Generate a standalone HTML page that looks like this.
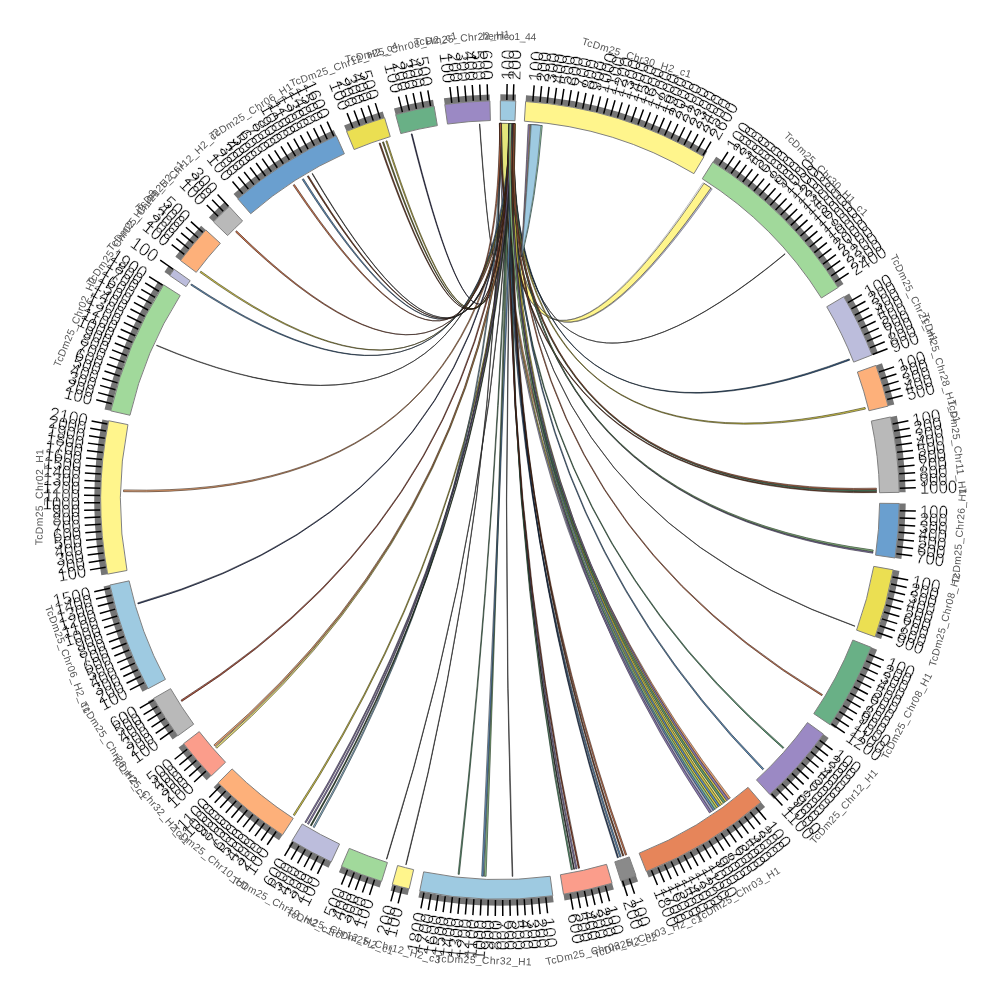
<!DOCTYPE html>
<html><head><meta charset="utf-8"><title>circos</title>
<style>
html,body{margin:0;padding:0;background:#fff;}
svg{display:block;font-family:"Liberation Sans",sans-serif;}
.tl text{mix-blend-mode:darken;}
</style></head><body>
<svg width="1000" height="1000" viewBox="0 0 1000 1000">
<rect width="1000" height="1000" fill="#fff"/>
<g stroke-linejoin="round"><path d="M500.33 123.4Q504.4 485.06 703.73 183.26A376.6 376.6 0 0 1 712.22 188.89Q504.81 485.14 510.19 123.54A376.6 376.6 0 0 0 500.33 123.4Z" fill="#bcbddc" stroke="#555" stroke-width="0.5"/><path d="M500.66 123.4Q504.37 485.12 702.9 182.73A376.6 376.6 0 0 1 710.86 187.97Q504.75 485.19 509.86 123.53A376.6 376.6 0 0 0 500.66 123.4Z" fill="#fff" stroke="#888" stroke-width="0.5"/><path d="M500.66 123.4Q504.43 485.01 704.01 183.44A376.6 376.6 0 0 1 710.86 187.97Q504.73 485.24 509.86 123.53A376.6 376.6 0 0 0 500.66 123.4Z" fill="#fff58c" stroke="#333" stroke-width="0.6"/><path d="M500.6 123.5L510 123.5Q509 170 507 215Q502 170 500.6 123.5Z" fill="#e3e57b" stroke="#555" stroke-width="0.5"/><path d="M499.37 123.4Q500 500 728.71 799.2A376.6 376.6 0 0 0 730.33 797.95Q500 500 501.4 123.4A376.6 376.6 0 0 0 499.37 123.4Z" fill="#e8a170" stroke="#322318" stroke-width="0.5"/><path d="M511.23 123.57Q500 500 137.73 602.91A376.6 376.6 0 0 0 138.03 603.94Q500 500 512.29 123.6A376.6 376.6 0 0 0 511.23 123.57Z" fill="#354470" stroke="#0b0e18" stroke-width="0.6"/><path d="M510.36 123.54Q500 500 783.02 748.45A376.6 376.6 0 0 0 783.87 747.47Q500 500 511.66 123.58A376.6 376.6 0 0 0 510.36 123.54Z" fill="#60a17b" stroke="#15231a" stroke-width="0.6"/><path d="M512.85 123.62Q497.93 485.34 383.56 141.85A376.6 376.6 0 0 0 382.44 142.22Q497.9 485.13 514.04 123.66A376.6 376.6 0 0 0 512.85 123.62Z" fill="#7e7e35" stroke="#1b1b0b" stroke-width="0.6"/><path d="M512.23 123.6Q493.31 482.8 236.57 230.87A376.6 376.6 0 0 0 235.51 231.91Q493.1 482.26 513.71 123.65A376.6 376.6 0 0 0 512.23 123.6Z" fill="#d37a52" stroke="#2e1a12" stroke-width="0.6"/><path d="M509.99 123.53Q495.99 484.99 303.47 178.75A376.6 376.6 0 0 0 302.21 179.52Q495.88 484.59 511.47 123.57A376.6 376.6 0 0 0 509.99 123.53Z" fill="#6192be" stroke="#151f29" stroke-width="0.6"/><path d="M511.92 123.59Q500 500 573.68 869.32A376.6 376.6 0 0 0 574.55 869.15Q500 500 512.8 123.62A376.6 376.6 0 0 0 511.92 123.59Z" fill="#2e2e2e" stroke="#0a0a0a" stroke-width="0.6"/><path d="M511.1 123.56Q500 500 721.81 804.35A376.6 376.6 0 0 0 723.46 803.14Q500 500 513.14 123.63A376.6 376.6 0 0 0 511.1 123.56Z" fill="#eae180" stroke="#33311c" stroke-width="0.5"/><path d="M513.64 123.65Q508.17 482.99 785.21 254.07A376.6 376.6 0 0 0 784.96 253.77Q508.1 483.13 514.04 123.66A376.6 376.6 0 0 0 513.64 123.65Z" fill="#222" stroke="#222" stroke-width="0.6"/><path d="M499.46 123.4Q500 500 716.68 808.02A376.6 376.6 0 0 0 718.34 806.84Q500 500 501.5 123.4A376.6 376.6 0 0 0 499.46 123.4Z" fill="#d8cd4b" stroke="#2f2c10" stroke-width="0.5"/><path d="M510.21 123.54Q500 500 625.32 855.14A376.6 376.6 0 0 0 626.72 854.64Q500 500 511.69 123.58A376.6 376.6 0 0 0 510.21 123.54Z" fill="#d37a52" stroke="#2e1a12" stroke-width="0.6"/><path d="M513.62 123.65Q500 500 762.73 769.82A376.6 376.6 0 0 0 763.79 768.78Q500 500 515.1 123.7A376.6 376.6 0 0 0 513.62 123.65Z" fill="#6192be" stroke="#151f29" stroke-width="0.6"/><path d="M509.91 123.53Q500 500 854.78 626.33A376.6 376.6 0 0 0 854.91 625.96Q500 500 510.31 123.54A376.6 376.6 0 0 0 509.91 123.53Z" fill="#222" stroke="#222" stroke-width="0.6"/><path d="M510.94 123.56Q500 500 575.73 868.91A376.6 376.6 0 0 0 577.01 868.64Q500 500 512.24 123.6A376.6 376.6 0 0 0 510.94 123.56Z" fill="#8e7eb4" stroke="#1f1b27" stroke-width="0.6"/><path d="M513.1 123.63Q499.12 406.93 479.8 123.94A376.6 376.6 0 0 0 479.47 123.96Q499.12 406.91 513.42 123.64A376.6 376.6 0 0 0 513.1 123.63Z" fill="#222" stroke="#222" stroke-width="0.6"/><path d="M509.69 123.52Q496.16 485.21 308.41 175.78A376.6 376.6 0 0 0 307.39 176.38Q496.08 484.89 510.87 123.56A376.6 376.6 0 0 0 509.69 123.52Z" fill="#7e4426" stroke="#1b0e08" stroke-width="0.6"/><path d="M510.92 123.56Q500 500 713.23 810.42A376.6 376.6 0 0 0 714.9 809.26Q500 500 512.96 123.62A376.6 376.6 0 0 0 510.92 123.56Z" fill="#6192be" stroke="#151f29" stroke-width="0.5"/><path d="M509.07 123.51Q500 500 307.45 823.66A376.6 376.6 0 0 0 308.57 824.32Q500 500 510.37 123.54A376.6 376.6 0 0 0 509.07 123.51Z" fill="#8e7eb4" stroke="#1f1b27" stroke-width="0.6"/><path d="M499.42 123.4Q500 500 711.38 811.68A376.6 376.6 0 0 0 713.06 810.53Q500 500 501.46 123.4A376.6 376.6 0 0 0 499.42 123.4Z" fill="#acadca" stroke="#25252c" stroke-width="0.5"/><path d="M513.03 123.63Q492.4 487.78 156.71 345.14A376.6 376.6 0 0 0 156.5 345.62Q492.36 487.72 513.56 123.64A376.6 376.6 0 0 0 513.03 123.63Z" fill="#333" stroke="#222" stroke-width="0.6"/><path d="M511.34 123.57Q500 500 718.4 806.81A376.6 376.6 0 0 0 720.06 805.62Q500 500 513.37 123.64A376.6 376.6 0 0 0 511.34 123.57Z" fill="#6192be" stroke="#151f29" stroke-width="0.5"/><path d="M513.19 123.63Q500 500 571.22 869.8A376.6 376.6 0 0 0 572.5 869.56Q500 500 514.49 123.68A376.6 376.6 0 0 0 513.19 123.63Z" fill="#60a17b" stroke="#15231a" stroke-width="0.6"/><path d="M510.43 123.54Q500 500 578.31 868.37A376.6 376.6 0 0 0 579.58 868.1Q500 500 511.73 123.58A376.6 376.6 0 0 0 510.43 123.54Z" fill="#933f26" stroke="#200d08" stroke-width="0.6"/><path d="M512.07 123.59Q500 500 215.63 746.9A376.6 376.6 0 0 0 216.79 748.24Q500 500 513.84 123.65A376.6 376.6 0 0 0 512.07 123.59Z" fill="#eae180" stroke="#33311c" stroke-width="0.6"/><path d="M511.57 123.58Q500 500 123.54 489.91A376.6 376.6 0 0 0 123.49 491.69Q500 500 513.35 123.64A376.6 376.6 0 0 0 511.57 123.58Z" fill="#e8a170" stroke="#322318" stroke-width="0.6"/><path d="M511.94 123.59Q497.91 479.54 412.07 133.81A376.6 376.6 0 0 0 411.21 134.02Q497.89 479.42 512.83 123.62A376.6 376.6 0 0 0 511.94 123.59Z" fill="#353561" stroke="#0b0b15" stroke-width="0.6"/><path d="M511.04 123.56Q500 500 293.28 814.79A376.6 376.6 0 0 0 294.52 815.6Q500 500 512.52 123.61A376.6 376.6 0 0 0 511.04 123.56Z" fill="#d8cd4b" stroke="#2f2c10" stroke-width="0.6"/><path d="M499.81 123.4Q500 500 313.05 826.92A376.6 376.6 0 0 0 314.34 827.65Q500 500 501.29 123.4A376.6 376.6 0 0 0 499.81 123.4Z" fill="#91b9cf" stroke="#1f282d" stroke-width="0.6"/><path d="M513.17 123.63Q500 500 720.11 805.58A376.6 376.6 0 0 0 721.76 804.39Q500 500 515.2 123.71A376.6 376.6 0 0 0 513.17 123.63Z" fill="#d8cd4b" stroke="#2f2c10" stroke-width="0.5"/><path d="M511.22 123.57Q508.72 487.52 849.67 360.14A376.6 376.6 0 0 0 849.18 358.93Q508.59 487.71 512.52 123.61A376.6 376.6 0 0 0 511.22 123.57Z" fill="#39618d" stroke="#0c151e" stroke-width="0.6"/><path d="M512.21 123.6Q500 500 310.34 825.35A376.6 376.6 0 0 0 311.36 825.95Q500 500 513.39 123.64A376.6 376.6 0 0 0 512.21 123.6Z" fill="#355235" stroke="#0b120b" stroke-width="0.6"/><path d="M508.94 123.51Q500 500 484.33 876.27A376.6 376.6 0 0 0 486.1 876.34Q500 500 510.72 123.55A376.6 376.6 0 0 0 508.94 123.51Z" fill="#94c78e" stroke="#202b1f" stroke-width="0.6"/><path d="M512.4 123.6Q497.94 484.93 387 140.75A376.6 376.6 0 0 0 385.88 141.11Q497.91 484.73 513.58 123.64A376.6 376.6 0 0 0 512.4 123.6Z" fill="#d8cd4b" stroke="#2f2c10" stroke-width="0.6"/><path d="M511.98 123.59Q492.17 483.5 200.87 271.2A376.6 376.6 0 0 0 199.98 272.37Q491.93 482.99 513.46 123.64A376.6 376.6 0 0 0 511.98 123.59Z" fill="#d8cd4b" stroke="#2f2c10" stroke-width="0.6"/><path d="M513.4 123.64Q500 500 725.2 801.85A376.6 376.6 0 0 0 726.83 800.63Q500 500 515.44 123.72A376.6 376.6 0 0 0 513.4 123.64Z" fill="#d8cd4b" stroke="#2f2c10" stroke-width="0.5"/><path d="M512.93 123.62Q500 500 872.83 553.19A376.6 376.6 0 0 0 873.01 551.9Q500 500 514.23 123.67A376.6 376.6 0 0 0 512.93 123.62Z" fill="#8e7eb4" stroke="#1f1b27" stroke-width="0.6"/><path d="M499.92 123.4Q500 500 405.71 864.6A376.6 376.6 0 0 0 406.22 864.74Q500 500 500.45 123.4A376.6 376.6 0 0 0 499.92 123.4Z" fill="#333" stroke="#222" stroke-width="0.6"/><path d="M510.78 123.55Q491.94 483.97 191.5 284A376.6 376.6 0 0 0 190.76 285.06Q491.74 483.56 512.08 123.59A376.6 376.6 0 0 0 510.78 123.55Z" fill="#6192be" stroke="#151f29" stroke-width="0.6"/><path d="M511.94 123.59Q500 500 213.91 744.91A376.6 376.6 0 0 0 215.07 746.25Q500 500 513.71 123.65A376.6 376.6 0 0 0 511.94 123.59Z" fill="#e8a170" stroke="#322318" stroke-width="0.6"/><path d="M509.05 123.51Q500 500 458.09 874.26A376.6 376.6 0 0 0 459.26 874.39Q500 500 510.23 123.54A376.6 376.6 0 0 0 509.05 123.51Z" fill="#60a17b" stroke="#15231a" stroke-width="0.6"/><path d="M511.07 123.56Q500 500 181 700.17A376.6 376.6 0 0 0 181.79 701.42Q500 500 512.54 123.61A376.6 376.6 0 0 0 511.07 123.56Z" fill="#b45944" stroke="#27130e" stroke-width="0.6"/><path d="M509.34 123.52Q500 500 723.51 803.1A376.6 376.6 0 0 0 725.14 801.89Q500 500 511.38 123.57A376.6 376.6 0 0 0 509.34 123.52Z" fill="#60a17b" stroke="#15231a" stroke-width="0.5"/><path d="M509.84 123.53Q496.29 485.33 312.5 173.4A376.6 376.6 0 0 0 312.04 173.66Q496.26 485.19 510.37 123.54A376.6 376.6 0 0 0 509.84 123.53Z" fill="#222" stroke="#222" stroke-width="0.6"/><path d="M509.08 123.51Q500 500 619.73 857.06A376.6 376.6 0 0 0 621.13 856.59Q500 500 510.56 123.55A376.6 376.6 0 0 0 509.08 123.51Z" fill="#6192be" stroke="#151f29" stroke-width="0.6"/><path d="M512.72 123.62Q500 500 617.38 857.84A376.6 376.6 0 0 0 618.5 857.47Q500 500 513.91 123.66A376.6 376.6 0 0 0 512.72 123.62Z" fill="#2b4874" stroke="#090f19" stroke-width="0.6"/><path d="M499.49 123.4Q500.54 499.44 876.53 492.57A376.6 376.6 0 0 0 876.5 491.39Q500.73 499.25 500.68 123.4A376.6 376.6 0 0 0 499.49 123.4Z" fill="#7e4426" stroke="#1b0e08" stroke-width="0.6"/><path d="M509.92 123.53Q506.81 491.51 865.45 409.06A376.6 376.6 0 0 0 865.05 407.45Q506.85 491.47 511.58 123.58A376.6 376.6 0 0 0 509.92 123.53Z" fill="#d8cd4b" stroke="#2f2c10" stroke-width="0.6"/><path d="M510.44 123.54Q500 500 726.88 800.59A376.6 376.6 0 0 0 728.5 799.36Q500 500 512.47 123.61A376.6 376.6 0 0 0 510.44 123.54Z" fill="#8e7eb4" stroke="#1f1b27" stroke-width="0.5"/><path d="M513.5 123.64Q500 500 512.16 876.4A376.6 376.6 0 0 0 512.81 876.38Q500 500 514.15 123.67A376.6 376.6 0 0 0 513.5 123.64Z" fill="#555" stroke="#222" stroke-width="0.6"/><path d="M509.34 123.52Q497.8 485.36 380.19 142.97A376.6 376.6 0 0 0 379.07 143.34Q497.76 485.16 510.52 123.55A376.6 376.6 0 0 0 509.34 123.52Z" fill="#7e4426" stroke="#1b0e08" stroke-width="0.6"/><path d="M511.48 123.58Q500 500 386.38 859.05A376.6 376.6 0 0 0 386.88 859.21Q500 500 512.01 123.59A376.6 376.6 0 0 0 511.48 123.58Z" fill="#333" stroke="#222" stroke-width="0.6"/><path d="M511.22 123.57Q500 500 709.47 812.97A376.6 376.6 0 0 0 711.16 811.83Q500 500 513.26 123.63A376.6 376.6 0 0 0 511.22 123.57Z" fill="#8e7eb4" stroke="#1f1b27" stroke-width="0.5"/><path d="M513.14 123.63Q500 500 873.06 551.52A376.6 376.6 0 0 0 873.26 550.05Q500 500 514.62 123.68A376.6 376.6 0 0 0 513.14 123.63Z" fill="#94c78e" stroke="#202b1f" stroke-width="0.6"/><path d="M512.68 123.61Q500 500 481.7 876.16A376.6 376.6 0 0 0 483.47 876.24Q500 500 514.45 123.68A376.6 376.6 0 0 0 512.68 123.61Z" fill="#6192be" stroke="#151f29" stroke-width="0.6"/><path d="M499.83 123.4Q495.57 485.09 294.41 184.47A376.6 376.6 0 0 0 293.17 185.28Q495.45 484.68 501.31 123.4A376.6 376.6 0 0 0 499.83 123.4Z" fill="#d37a52" stroke="#2e1a12" stroke-width="0.6"/><path d="M510.31 123.54Q501.53 498.47 876.49 491.06A376.6 376.6 0 0 0 876.46 489.88Q501.72 498.29 511.49 123.58A376.6 376.6 0 0 0 510.31 123.54Z" fill="#60a17b" stroke="#15231a" stroke-width="0.6"/><path d="M510.93 123.56Q501.7 498.3 876.45 489.48A376.6 376.6 0 0 0 876.41 488.18Q501.91 498.09 512.23 123.6A376.6 376.6 0 0 0 510.93 123.56Z" fill="#d37a52" stroke="#2e1a12" stroke-width="0.6"/><path d="M510.65 123.55Q500 500 304.92 822.13A376.6 376.6 0 0 0 306.03 822.81Q500 500 511.95 123.59A376.6 376.6 0 0 0 510.65 123.55Z" fill="#8e7eb4" stroke="#1f1b27" stroke-width="0.6"/><path d="M513.24 123.63Q500 500 622.62 856.08A376.6 376.6 0 0 0 623.84 855.65Q500 500 514.54 123.68A376.6 376.6 0 0 0 513.24 123.63Z" fill="#7e4426" stroke="#1b0e08" stroke-width="0.6"/><path d="M513.6 123.65Q500 500 821.79 695.65A376.6 376.6 0 0 0 822.47 694.53Q500 500 514.9 123.69A376.6 376.6 0 0 0 513.6 123.65Z" fill="#d37a52" stroke="#2e1a12" stroke-width="0.6"/><path d="M509.25 123.51Q500 500 714.96 809.23A376.6 376.6 0 0 0 716.63 808.06Q500 500 511.29 123.57A376.6 376.6 0 0 0 509.25 123.51Z" fill="#94c78e" stroke="#202b1f" stroke-width="0.5"/><path d="M528.2 124.6Q525 195 521.2 257Q535.2 200 541.2 125.6A376.6 376.6 0 0 0 528.2 124.6Z" fill="#9b89c4" stroke="#222" stroke-width="0.6"/><path d="M529.7 124.6Q525.85 195 521.4 256.5Q535.5 200 541.6 125.6A376.6 376.6 0 0 0 529.7 124.6Z" fill="#fdb07a" stroke="#333" stroke-width="0.5"/><path d="M530.6 124.6Q526.55 195 521.9 257Q536.1 200 542.3 125.6A376.6 376.6 0 0 0 530.6 124.6Z" fill="#a1d99b" stroke="#234" stroke-width="0.6"/><path d="M531.3 124.6Q526.8 195 521.7 255Q535.3 200 540.9 125.6A376.6 376.6 0 0 0 531.3 124.6Z" fill="#9ecae1" stroke="#445" stroke-width="0.5"/></g>
<path d="M500.35 94.3A405.7 405.7 0 0 1 516 94.62L515.75 101.01A399.3 399.3 0 0 0 500.35 100.7Z" fill="#757575"/>
<path d="M500.35 100.7A399.3 399.3 0 0 1 515.75 101.01L514.97 120.7A379.6 379.6 0 0 0 500.33 120.4Z" fill="#9ecae1" stroke="#808080" stroke-width="1"/>
<path d="M526.04 95.14A405.7 405.7 0 0 1 707.25 151.23L703.98 156.73A399.3 399.3 0 0 0 525.63 101.52Z" fill="#757575"/>
<path d="M525.63 101.52A399.3 399.3 0 0 1 703.98 156.73L693.92 173.67A379.6 379.6 0 0 0 524.36 121.18Z" fill="#fff58c" stroke="#808080" stroke-width="1"/>
<path d="M716.19 156.7A405.7 405.7 0 0 1 843.49 284.11L838.07 287.52A399.3 399.3 0 0 0 712.78 162.12Z" fill="#757575"/>
<path d="M712.78 162.12A399.3 399.3 0 0 1 838.07 287.52L821.39 298A379.6 379.6 0 0 0 702.28 178.79Z" fill="#a1d99b" stroke="#808080" stroke-width="1"/>
<path d="M849.2 293.48A405.7 405.7 0 0 1 877.99 352.63L872.02 354.95A399.3 399.3 0 0 0 843.69 296.74Z" fill="#757575"/>
<path d="M843.69 296.74A399.3 399.3 0 0 1 872.02 354.95L853.67 362.11A379.6 379.6 0 0 0 826.74 306.77Z" fill="#bcbddc" stroke="#808080" stroke-width="1"/>
<path d="M881.95 363.24A405.7 405.7 0 0 1 894.32 404.6L888.1 406.11A399.3 399.3 0 0 0 875.93 365.4Z" fill="#757575"/>
<path d="M875.93 365.4A399.3 399.3 0 0 1 888.1 406.11L868.96 410.74A379.6 379.6 0 0 0 857.38 372.04Z" fill="#fdb07a" stroke="#808080" stroke-width="1"/>
<path d="M896.83 415.65A405.7 405.7 0 0 1 905.63 492.21L899.23 492.33A399.3 399.3 0 0 0 890.57 416.98Z" fill="#757575"/>
<path d="M890.57 416.98A399.3 399.3 0 0 1 899.23 492.33L879.53 492.71A379.6 379.6 0 0 0 871.3 421.08Z" fill="#b9b9b9" stroke="#808080" stroke-width="1"/>
<path d="M905.68 503.54A405.7 405.7 0 0 1 901.4 558.92L895.07 557.99A399.3 399.3 0 0 0 899.28 503.48Z" fill="#757575"/>
<path d="M899.28 503.48A399.3 399.3 0 0 1 895.07 557.99L875.58 555.13A379.6 379.6 0 0 0 879.59 503.31Z" fill="#6a9fcf" stroke="#808080" stroke-width="1"/>
<path d="M899.45 570.94A405.7 405.7 0 0 1 881.11 639.09L875.1 636.9A399.3 399.3 0 0 0 893.15 569.82Z" fill="#757575"/>
<path d="M893.15 569.82A399.3 399.3 0 0 1 875.1 636.9L856.59 630.14A379.6 379.6 0 0 0 873.75 566.37Z" fill="#ebdf52" stroke="#808080" stroke-width="1"/>
<path d="M877.08 649.68A405.7 405.7 0 0 1 835.35 728.33L830.06 724.73A399.3 399.3 0 0 0 871.13 647.32Z" fill="#757575"/>
<path d="M871.13 647.32A399.3 399.3 0 0 1 830.06 724.73L813.77 713.64A379.6 379.6 0 0 0 852.82 640.05Z" fill="#69b086" stroke="#808080" stroke-width="1"/>
<path d="M828.63 737.89A405.7 405.7 0 0 1 774.09 799.11L769.76 794.39A399.3 399.3 0 0 0 823.45 734.14Z" fill="#757575"/>
<path d="M823.45 734.14A399.3 399.3 0 0 1 769.76 794.39L756.45 779.87A379.6 379.6 0 0 0 807.49 722.59Z" fill="#9b89c4" stroke="#808080" stroke-width="1"/>
<path d="M765.09 807.11A405.7 405.7 0 0 1 648.69 877.47L646.34 871.52A399.3 399.3 0 0 0 760.91 802.27Z" fill="#757575"/>
<path d="M760.91 802.27A399.3 399.3 0 0 1 646.34 871.52L639.12 853.19A379.6 379.6 0 0 0 748.04 787.36Z" fill="#e6855a" stroke="#808080" stroke-width="1"/>
<path d="M638.09 881.47A405.7 405.7 0 0 1 622.67 886.71L620.74 880.61A399.3 399.3 0 0 0 635.91 875.46Z" fill="#757575"/>
<path d="M635.91 875.46A399.3 399.3 0 0 1 620.74 880.61L614.78 861.83A379.6 379.6 0 0 0 629.21 856.93Z" fill="#8a8a8a" stroke="#808080" stroke-width="1"/>
<path d="M613.87 889.39A405.7 405.7 0 0 1 564.51 900.54L563.5 894.22A399.3 399.3 0 0 0 612.07 883.25Z" fill="#757575"/>
<path d="M612.07 883.25A399.3 399.3 0 0 1 563.5 894.22L560.36 874.77A379.6 379.6 0 0 0 606.54 864.34Z" fill="#fb9d8b" stroke="#808080" stroke-width="1"/>
<path d="M553.66 902.14A405.7 405.7 0 0 1 418.42 897.41L419.71 891.14A399.3 399.3 0 0 0 552.81 895.79Z" fill="#757575"/>
<path d="M552.81 895.79A399.3 399.3 0 0 1 419.71 891.14L423.67 871.85A379.6 379.6 0 0 0 550.2 876.27Z" fill="#9ecae1" stroke="#808080" stroke-width="1"/>
<path d="M407.7 895.06A405.7 405.7 0 0 1 390.56 890.66L392.28 884.5A399.3 399.3 0 0 0 409.16 888.83Z" fill="#757575"/>
<path d="M409.16 888.83A399.3 399.3 0 0 1 392.28 884.5L397.6 865.53A379.6 379.6 0 0 0 413.64 869.65Z" fill="#fff58c" stroke="#808080" stroke-width="1"/>
<path d="M379.69 887.45A405.7 405.7 0 0 1 338.88 872.33L341.42 866.46A399.3 399.3 0 0 0 381.59 881.34Z" fill="#757575"/>
<path d="M381.59 881.34A399.3 399.3 0 0 1 341.42 866.46L349.24 848.38A379.6 379.6 0 0 0 387.43 862.53Z" fill="#a1d99b" stroke="#808080" stroke-width="1"/>
<path d="M328.54 867.69A405.7 405.7 0 0 1 288.63 846.29L291.96 840.82A399.3 399.3 0 0 0 331.25 861.89Z" fill="#757575"/>
<path d="M331.25 861.89A399.3 399.3 0 0 1 291.96 840.82L302.22 824.01A379.6 379.6 0 0 0 339.57 844.03Z" fill="#bcbddc" stroke="#808080" stroke-width="1"/>
<path d="M279.04 840.25A405.7 405.7 0 0 1 213.63 787.37L218.15 782.84A399.3 399.3 0 0 0 282.53 834.88Z" fill="#757575"/>
<path d="M282.53 834.88A399.3 399.3 0 0 1 218.15 782.84L232.05 768.89A379.6 379.6 0 0 0 293.26 818.36Z" fill="#fdb07a" stroke="#808080" stroke-width="1"/>
<path d="M206.69 780.29A405.7 405.7 0 0 1 178.57 747.54L183.64 743.63A399.3 399.3 0 0 0 211.32 775.87Z" fill="#757575"/>
<path d="M211.32 775.87A399.3 399.3 0 0 1 183.64 743.63L199.25 731.61A379.6 379.6 0 0 0 225.56 762.26Z" fill="#fb9d8b" stroke="#808080" stroke-width="1"/>
<path d="M172.62 739.61A405.7 405.7 0 0 1 147.95 701.62L153.5 698.44A399.3 399.3 0 0 0 177.78 735.83Z" fill="#757575"/>
<path d="M177.78 735.83A399.3 399.3 0 0 1 153.5 698.44L170.6 688.65A379.6 379.6 0 0 0 193.68 724.19Z" fill="#b9b9b9" stroke="#808080" stroke-width="1"/>
<path d="M142.46 691.71A405.7 405.7 0 0 1 103.61 586.43L109.87 585.06A399.3 399.3 0 0 0 148.1 688.69Z" fill="#757575"/>
<path d="M148.1 688.69A399.3 399.3 0 0 1 109.87 585.06L129.11 580.87A379.6 379.6 0 0 0 165.46 679.38Z" fill="#9ecae1" stroke="#808080" stroke-width="1"/>
<path d="M101.35 575.32A405.7 405.7 0 0 1 102.37 419.46L108.65 420.73A399.3 399.3 0 0 0 107.64 574.14Z" fill="#757575"/>
<path d="M107.64 574.14A399.3 399.3 0 0 1 108.65 420.73L127.95 424.64A379.6 379.6 0 0 0 127 570.48Z" fill="#fff58c" stroke="#808080" stroke-width="1"/>
<path d="M104.54 409.43A405.7 405.7 0 0 1 158.22 281.42L163.61 284.87A399.3 399.3 0 0 0 110.78 410.86Z" fill="#757575"/>
<path d="M110.78 410.86A399.3 399.3 0 0 1 163.61 284.87L180.21 295.48A379.6 379.6 0 0 0 129.98 415.25Z" fill="#a1d99b" stroke="#808080" stroke-width="1"/>
<path d="M164.45 271.96A405.7 405.7 0 0 1 168.89 265.56L174.12 269.26A399.3 399.3 0 0 0 169.75 275.56Z" fill="#757575"/>
<path d="M169.75 275.56A399.3 399.3 0 0 1 174.12 269.26L190.19 280.65A379.6 379.6 0 0 0 186.04 286.63Z" fill="#bcbddc" stroke="#808080" stroke-width="1"/>
<path d="M175.36 256.69A405.7 405.7 0 0 1 201.13 225.65L205.84 229.98A399.3 399.3 0 0 0 180.48 260.53Z" fill="#757575"/>
<path d="M180.48 260.53A399.3 399.3 0 0 1 205.84 229.98L220.35 243.3A379.6 379.6 0 0 0 196.24 272.35Z" fill="#fdb07a" stroke="#808080" stroke-width="1"/>
<path d="M208.9 217.41A405.7 405.7 0 0 1 224.87 201.85L229.21 206.55A399.3 399.3 0 0 0 213.49 221.87Z" fill="#757575"/>
<path d="M213.49 221.87A399.3 399.3 0 0 1 229.21 206.55L242.57 221.03A379.6 379.6 0 0 0 227.63 235.59Z" fill="#b9b9b9" stroke="#808080" stroke-width="1"/>
<path d="M233.57 194.05A405.7 405.7 0 0 1 333.69 129.95L336.32 135.79A399.3 399.3 0 0 0 237.77 198.87Z" fill="#757575"/>
<path d="M237.77 198.87A399.3 399.3 0 0 1 336.32 135.79L344.39 153.76A379.6 379.6 0 0 0 250.71 213.73Z" fill="#6a9fcf" stroke="#808080" stroke-width="1"/>
<path d="M344.09 125.45A405.7 405.7 0 0 1 382.74 111.62L384.59 117.74A399.3 399.3 0 0 0 346.55 131.36Z" fill="#757575"/>
<path d="M346.55 131.36A399.3 399.3 0 0 1 384.59 117.74L390.28 136.6A379.6 379.6 0 0 0 354.12 149.55Z" fill="#ebdf52" stroke="#808080" stroke-width="1"/>
<path d="M393.97 108.4A405.7 405.7 0 0 1 433.04 99.86L434.1 106.18A399.3 399.3 0 0 0 395.64 114.58Z" fill="#757575"/>
<path d="M395.64 114.58A399.3 399.3 0 0 1 434.1 106.18L437.35 125.61A379.6 379.6 0 0 0 400.79 133.59Z" fill="#69b086" stroke="#808080" stroke-width="1"/>
<path d="M443.89 98.2A405.7 405.7 0 0 1 489.73 94.43L489.9 100.83A399.3 399.3 0 0 0 444.77 104.54Z" fill="#757575"/>
<path d="M444.77 104.54A399.3 399.3 0 0 1 489.9 100.83L490.39 120.52A379.6 379.6 0 0 0 447.5 124.05Z" fill="#9b89c4" stroke="#808080" stroke-width="1"/>
<path d="M506.84 100.06L507.12 84.06M513.26 100.22L513.79 84.23M532.85 101.35L534.17 85.41M540.02 102.01L541.62 86.09M547.17 102.79L549.06 86.9M554.31 103.7L556.49 87.85M561.44 104.75L563.89 88.94M568.54 105.92L571.28 90.15M575.62 107.21L578.64 91.5M582.67 108.64L585.98 92.98M589.7 110.19L593.29 94.6M596.7 111.86L600.57 96.34M603.67 113.67L607.82 98.21M610.6 115.6L615.03 100.22M617.5 117.65L622.2 102.35M624.36 119.82L629.34 104.62M631.18 122.12L636.43 107.01M637.96 124.54L643.48 109.53M644.7 127.09L650.48 112.17M651.38 129.75L657.44 114.94M658.02 132.54L664.34 117.84M664.61 135.44L671.19 120.86M671.14 138.46L677.98 124M677.62 141.6L684.72 127.26M684.04 144.85L691.4 130.65M690.4 148.22L698.01 134.15M696.7 151.7L704.56 137.77M702.93 155.3L711.05 141.51M719.21 165.41L727.97 152.03M725.19 169.41L734.2 156.19M731.1 173.52L740.35 160.46M736.94 177.73L746.42 164.84M742.7 182.04L752.41 169.33M748.38 186.46L758.32 173.92M753.98 190.98L764.14 178.62M759.5 195.6L769.88 183.43M764.94 200.32L775.54 188.33M770.29 205.14L781.1 193.34M775.55 210.05L786.57 198.45M780.72 215.05L791.95 203.65M785.8 220.15L797.24 208.96M790.79 225.34L802.42 214.35M795.69 230.61L807.52 219.84M800.49 235.98L812.51 225.42M805.19 241.43L817.4 231.08M809.79 246.96L822.18 236.84M814.3 252.58L826.87 242.68M818.7 258.27L831.44 248.6M822.99 264.05L835.91 254.61M827.19 269.9L840.28 260.69M831.28 275.82L844.53 266.85M835.26 281.82L848.67 273.09M847.9 302.61L861.82 294.72M851.4 308.9L865.46 301.26M854.78 315.26L868.97 307.87M858.05 321.67L872.37 314.54M861.2 328.14L875.65 321.27M864.23 334.67L878.8 328.06M867.15 341.25L881.83 334.9M869.95 347.88L884.74 341.8M872.62 354.56L887.53 348.75M878.95 371.96L894.11 366.84M881.2 378.8L896.44 373.95M883.32 385.68L898.65 381.1M885.31 392.59L900.72 388.3M887.18 399.54L902.67 395.53M892.69 423.89L908.4 420.84M894 430.97L909.76 428.21M895.18 438.07L910.98 435.59M896.23 445.19L912.08 443M897.15 452.33L913.03 450.42M897.94 459.48L913.86 457.86M898.61 466.65L914.55 465.31M899.14 473.82L915.11 472.78M899.55 481.01L915.53 480.25M899.83 488.2L915.82 487.73M899.86 510.69L915.85 511.11M899.6 517.88L915.58 518.6M899.21 525.07L915.18 526.07M898.7 532.25L914.65 533.54M898.05 539.42L913.98 540.99M897.28 546.57L913.17 548.43M896.38 553.71L912.23 555.86M892.52 577.02L908.22 580.1M891.07 584.07L906.71 587.43M889.49 591.09L905.07 594.73M887.79 598.08L903.3 602.01M885.96 605.04L901.4 609.25M884.01 611.97L899.37 616.45M881.93 618.86L897.21 623.62M879.73 625.72L894.92 630.74M877.41 632.53L892.5 637.83M869.07 654.24L883.83 660.41M866.23 660.86L880.88 667.29M863.28 667.42L877.81 674.12M860.21 673.93L874.61 680.89M857.02 680.38L871.3 687.6M853.72 686.78L867.86 694.25M850.3 693.11L864.31 700.84M846.77 699.38L860.64 707.36M843.12 705.59L856.85 713.81M839.37 711.73L852.94 720.2M835.5 717.8L848.92 726.52M831.53 723.8L844.79 732.76M819.74 740.34L832.53 749.95M815.37 746.06L827.98 755.9M810.89 751.69L823.32 761.76M806.31 757.24L818.56 767.53M801.63 762.71L813.7 773.22M796.86 768.1L808.73 778.82M791.98 773.4L803.66 784.33M787.02 778.61L798.5 789.75M781.96 783.72L793.24 795.07M776.81 788.75L787.88 800.3M771.57 793.69L782.43 805.43M755.88 807.45L766.11 819.75M750.3 812.01L760.32 824.49M744.65 816.46L754.44 829.12M738.92 820.81L748.47 833.64M733.1 825.06L742.43 838.06M727.22 829.2L736.31 842.37M721.26 833.23L730.11 846.56M715.23 837.16L723.83 850.65M709.12 840.98L717.49 854.62M702.96 844.69L711.07 858.47M696.72 848.28L704.59 862.21M690.42 851.77L698.04 865.84M684.06 855.14L691.42 869.34M677.64 858.39L684.75 872.73M671.16 861.53L678.01 875.99M664.63 864.55L671.22 879.13M658.05 867.45L664.37 882.15M651.41 870.24L657.46 885.05M629.36 878.5L634.54 893.64M622.53 880.77L627.43 896M605.34 885.88L609.55 901.32M598.38 887.71L602.32 903.22M591.39 889.42L595.04 905M584.37 891L587.74 906.64M577.32 892.46L580.41 908.15M570.24 893.78L573.05 909.54M545.76 897.37L547.59 913.27M538.6 898.13L540.15 914.06M531.43 898.76L532.69 914.71M524.25 899.26L525.22 915.23M517.06 899.64L517.75 915.62M509.87 899.88L510.27 915.87M502.67 899.99L502.78 915.99M495.48 899.97L495.3 915.97M488.28 899.83L487.81 915.82M481.09 899.55L480.33 915.53M473.9 899.15L472.86 915.11M466.72 898.61L465.39 914.56M459.56 897.95L457.94 913.87M452.4 897.16L450.5 913.04M445.26 896.24L443.07 912.09M438.14 895.19L435.67 911M431.04 894.01L428.28 909.77M423.96 892.71L420.92 908.41M402.01 887.81L398.09 903.32M395.04 885.98L390.85 901.42M374.53 879.81L369.51 895M367.72 877.49L362.42 892.59M360.94 875.05L355.38 890.05M354.22 872.49L348.39 887.39M347.54 869.81L341.44 884.6M324.46 859.42L317.44 873.8M318.02 856.21L310.74 870.45M311.64 852.87L304.1 866.99M305.32 849.43L297.53 863.4M299.06 845.87L291.03 859.7M292.87 842.2L284.59 855.88M276.14 831.49L267.19 844.75M270.21 827.41L261.02 840.51M264.36 823.22L254.94 836.15M258.58 818.93L248.93 831.69M252.88 814.54L243 827.12M247.26 810.04L237.15 822.44M241.73 805.44L231.4 817.66M236.27 800.75L225.72 812.77M230.9 795.95L220.14 807.79M225.62 791.06L214.65 802.7M220.43 786.08L209.25 797.52M205.89 771.1L194.12 781.95M201.06 765.77L189.1 776.4M196.32 760.35L184.18 770.76M191.69 754.84L179.36 765.03M187.15 749.25L174.64 759.22M173.02 730.4L159.94 739.61M168.92 724.48L155.68 733.45M164.94 718.48L151.54 727.22M161.06 712.42L147.5 720.91M157.29 706.28L143.59 714.54M153.64 700.08L139.78 708.09M144.13 682.65L129.9 689.95M140.91 676.21L126.54 683.26M137.79 669.72L123.3 676.51M134.8 663.18L120.19 669.71M131.92 656.58L117.2 662.84M129.16 649.93L114.33 655.93M126.53 643.24L111.59 648.97M124.01 636.49L108.97 641.95M121.61 629.71L106.48 634.89M119.34 622.88L104.11 627.79M117.19 616.01L101.88 620.65M115.17 609.1L99.77 613.46M113.27 602.16L97.8 606.24M111.49 595.18L95.95 598.99M109.84 588.18L94.23 591.7M105.68 567.18L89.91 569.87M104.54 560.08L88.72 562.48M103.52 552.95L87.66 555.07M102.63 545.81L86.74 547.64M101.87 538.65L85.95 540.2M101.24 531.48L85.29 532.74M100.74 524.3L84.77 525.27M100.37 517.11L84.38 517.8M100.12 509.92L84.13 510.32M100.01 502.72L84.01 502.83M100.03 495.53L84.03 495.35M100.17 488.33L84.18 487.86M100.45 481.14L84.46 480.38M100.85 473.95L84.88 472.91M101.38 466.77L85.44 465.44M102.04 459.61L86.13 457.99M102.84 452.45L86.95 450.55M103.76 445.31L87.91 443.13M104.8 438.19L89 435.72M105.98 431.09L90.22 428.33M107.28 424.01L91.58 420.97M111.77 403.7L96.24 399.85M113.56 396.73L98.1 392.6M115.48 389.79L100.1 385.38M117.53 382.89L102.23 378.21M119.7 376.03L104.48 371.07M121.99 369.21L106.87 363.97M124.4 362.42L109.38 356.92M126.94 355.69L112.02 349.92M129.6 349L114.78 342.96M132.37 342.36L117.67 336.05M135.27 335.77L120.68 329.2M138.28 329.23L123.81 322.4M141.41 322.75L127.07 315.66M144.66 316.33L130.45 308.98M148.02 309.97L133.95 302.36M151.5 303.66L137.56 295.81M155.09 297.42L141.29 289.32M158.79 291.25L145.14 282.9M162.6 285.14L149.11 276.55M173.27 269.25L160.2 260.02M184.28 254.39L171.66 244.57M188.76 248.75L176.31 238.7M193.33 243.19L181.06 232.92M198 237.71L185.92 227.22M202.77 232.32L190.88 221.61M218.05 216.27L206.77 204.92M223.2 211.24L212.13 199.69M228.44 206.3L217.58 194.56M242.78 193.67L232.49 181.41M248.34 189.09L238.27 176.65M253.97 184.61L244.13 172M259.69 180.24L250.07 167.44M265.48 175.96L256.1 163M271.35 171.8L262.2 158.67M277.29 167.73L268.38 154.44M283.3 163.78L274.64 150.33M289.39 159.94L280.97 146.33M295.54 156.2L287.36 142.45M301.76 152.58L293.83 138.68M308.05 149.07L300.37 135.03M314.39 145.67L306.97 131.5M320.8 142.39L313.63 128.08M327.26 139.22L320.35 124.79M333.78 136.17L327.13 121.62M352.95 128.01L347.07 113.13M359.67 125.42L354.06 110.44M366.43 122.96L361.09 107.88M373.24 120.62L368.17 105.44M380.08 118.4L375.29 103.13M402.43 112.08L398.52 96.57M409.42 110.39L405.8 94.81M416.45 108.82L413.1 93.18M423.5 107.38L420.44 91.68M430.58 106.07L427.8 90.31M451.81 102.91L449.89 87.03M458.97 102.11L457.32 86.19M466.13 101.44L464.78 85.49M473.31 100.89L472.24 84.93M480.49 100.48L479.71 84.49M487.69 100.19L487.19 84.2" stroke="#000" stroke-width="1.5" fill="none"/>
<g font-size="18.3" fill="#000" stroke="#fff" stroke-width="0.45" class="tl"><text transform="translate(507.18 80.06) rotate(-89.02) scale(1 1)" text-anchor="start" dy="0.355em">100</text><text transform="translate(513.93 80.23) rotate(-88.1) scale(1 1)" text-anchor="start" dy="0.355em">200</text><text transform="translate(534.49 81.42) rotate(-85.29) scale(1 1)" text-anchor="start" dy="0.355em">100</text><text transform="translate(542.02 82.11) rotate(-84.26) scale(1 1)" text-anchor="start" dy="0.355em">200</text><text transform="translate(549.53 82.93) rotate(-83.23) scale(1 1)" text-anchor="start" dy="0.355em">300</text><text transform="translate(557.03 83.89) rotate(-82.2) scale(1 1)" text-anchor="start" dy="0.355em">400</text><text transform="translate(564.51 84.98) rotate(-81.16) scale(1 1)" text-anchor="start" dy="0.355em">500</text><text transform="translate(571.96 86.21) rotate(-80.13) scale(1 1)" text-anchor="start" dy="0.355em">600</text><text transform="translate(579.4 87.57) rotate(-79.1) scale(1 1)" text-anchor="start" dy="0.355em">700</text><text transform="translate(586.81 89.07) rotate(-78.07) scale(1 1)" text-anchor="start" dy="0.355em">800</text><text transform="translate(594.19 90.7) rotate(-77.04) scale(1 1)" text-anchor="start" dy="0.355em">900</text><text transform="translate(601.54 92.46) rotate(-76.01) scale(1 1)" text-anchor="start" dy="0.355em">1000</text><text transform="translate(608.85 94.35) rotate(-74.98) scale(1 1)" text-anchor="start" dy="0.355em">1100</text><text transform="translate(616.13 96.38) rotate(-73.95) scale(1 1)" text-anchor="start" dy="0.355em">1200</text><text transform="translate(623.38 98.53) rotate(-72.92) scale(1 1)" text-anchor="start" dy="0.355em">1300</text><text transform="translate(630.58 100.82) rotate(-71.89) scale(1 1)" text-anchor="start" dy="0.355em">1400</text><text transform="translate(637.74 103.23) rotate(-70.86) scale(1 1)" text-anchor="start" dy="0.355em">1500</text><text transform="translate(644.86 105.77) rotate(-69.82) scale(1 1)" text-anchor="start" dy="0.355em">1600</text><text transform="translate(651.93 108.44) rotate(-68.79) scale(0.99 1)" text-anchor="start" dy="0.355em">1700</text><text transform="translate(658.95 111.24) rotate(-67.76) scale(0.99 1)" text-anchor="start" dy="0.355em">1800</text><text transform="translate(665.92 114.16) rotate(-66.73) scale(0.99 1)" text-anchor="start" dy="0.355em">1900</text><text transform="translate(672.84 117.21) rotate(-65.7) scale(0.99 1)" text-anchor="start" dy="0.355em">2000</text><text transform="translate(679.7 120.38) rotate(-64.67) scale(0.99 1)" text-anchor="start" dy="0.355em">2100</text><text transform="translate(686.5 123.68) rotate(-63.64) scale(0.99 1)" text-anchor="start" dy="0.355em">2200</text><text transform="translate(693.24 127.09) rotate(-62.61) scale(0.99 1)" text-anchor="start" dy="0.355em">2300</text><text transform="translate(699.92 130.63) rotate(-61.58) scale(0.99 1)" text-anchor="start" dy="0.355em">2400</text><text transform="translate(706.53 134.29) rotate(-60.55) scale(0.99 1)" text-anchor="start" dy="0.355em">2500</text><text transform="translate(713.08 138.06) rotate(-59.51) scale(0.99 1)" text-anchor="start" dy="0.355em">2600</text><text transform="translate(730.17 148.68) rotate(-56.77) scale(0.99 1)" text-anchor="start" dy="0.355em">100</text><text transform="translate(736.45 152.88) rotate(-55.74) scale(0.99 1)" text-anchor="start" dy="0.355em">200</text><text transform="translate(742.66 157.19) rotate(-54.71) scale(0.99 1)" text-anchor="start" dy="0.355em">300</text><text transform="translate(748.79 161.61) rotate(-53.68) scale(0.98 1)" text-anchor="start" dy="0.355em">400</text><text transform="translate(754.84 166.15) rotate(-52.64) scale(0.98 1)" text-anchor="start" dy="0.355em">500</text><text transform="translate(760.8 170.79) rotate(-51.61) scale(0.98 1)" text-anchor="start" dy="0.355em">600</text><text transform="translate(766.68 175.53) rotate(-50.58) scale(0.98 1)" text-anchor="start" dy="0.355em">700</text><text transform="translate(772.48 180.38) rotate(-49.55) scale(0.98 1)" text-anchor="start" dy="0.355em">800</text><text transform="translate(778.19 185.34) rotate(-48.52) scale(0.98 1)" text-anchor="start" dy="0.355em">900</text><text transform="translate(783.8 190.39) rotate(-47.49) scale(0.98 1)" text-anchor="start" dy="0.355em">1000</text><text transform="translate(789.33 195.55) rotate(-46.46) scale(0.98 1)" text-anchor="start" dy="0.355em">1100</text><text transform="translate(794.76 200.8) rotate(-45.43) scale(0.98 1)" text-anchor="start" dy="0.355em">1200</text><text transform="translate(800.09 206.16) rotate(-44.4) scale(0.98 1)" text-anchor="start" dy="0.355em">1300</text><text transform="translate(805.33 211.6) rotate(-43.37) scale(0.97 1)" text-anchor="start" dy="0.355em">1400</text><text transform="translate(810.47 217.15) rotate(-42.33) scale(0.97 1)" text-anchor="start" dy="0.355em">1500</text><text transform="translate(815.51 222.78) rotate(-41.3) scale(0.97 1)" text-anchor="start" dy="0.355em">1600</text><text transform="translate(820.45 228.5) rotate(-40.27) scale(0.97 1)" text-anchor="start" dy="0.355em">1700</text><text transform="translate(825.28 234.31) rotate(-39.24) scale(0.97 1)" text-anchor="start" dy="0.355em">1800</text><text transform="translate(830.01 240.21) rotate(-38.21) scale(0.97 1)" text-anchor="start" dy="0.355em">1900</text><text transform="translate(834.63 246.19) rotate(-37.18) scale(0.97 1)" text-anchor="start" dy="0.355em">2000</text><text transform="translate(839.14 252.25) rotate(-36.15) scale(0.97 1)" text-anchor="start" dy="0.355em">2100</text><text transform="translate(843.55 258.39) rotate(-35.12) scale(0.97 1)" text-anchor="start" dy="0.355em">2200</text><text transform="translate(847.84 264.61) rotate(-34.09) scale(0.96 1)" text-anchor="start" dy="0.355em">2300</text><text transform="translate(852.02 270.91) rotate(-33.06) scale(0.96 1)" text-anchor="start" dy="0.355em">2400</text><text transform="translate(865.3 292.74) rotate(-29.57) scale(0.96 1)" text-anchor="start" dy="0.355em">100</text><text transform="translate(868.97 299.35) rotate(-28.54) scale(0.96 1)" text-anchor="start" dy="0.355em">200</text><text transform="translate(872.52 306.02) rotate(-27.51) scale(0.96 1)" text-anchor="start" dy="0.355em">300</text><text transform="translate(875.95 312.75) rotate(-26.48) scale(0.96 1)" text-anchor="start" dy="0.355em">400</text><text transform="translate(879.26 319.55) rotate(-25.45) scale(0.95 1)" text-anchor="start" dy="0.355em">500</text><text transform="translate(882.44 326.4) rotate(-24.41) scale(0.95 1)" text-anchor="start" dy="0.355em">600</text><text transform="translate(885.51 333.31) rotate(-23.38) scale(0.95 1)" text-anchor="start" dy="0.355em">700</text><text transform="translate(888.44 340.28) rotate(-22.35) scale(0.95 1)" text-anchor="start" dy="0.355em">800</text><text transform="translate(891.25 347.29) rotate(-21.32) scale(0.95 1)" text-anchor="start" dy="0.355em">900</text><text transform="translate(897.9 365.56) rotate(-18.67) scale(0.95 1)" text-anchor="start" dy="0.355em">100</text><text transform="translate(900.26 372.74) rotate(-17.64) scale(0.94 1)" text-anchor="start" dy="0.355em">200</text><text transform="translate(902.48 379.96) rotate(-16.61) scale(0.94 1)" text-anchor="start" dy="0.355em">300</text><text transform="translate(904.58 387.22) rotate(-15.58) scale(0.94 1)" text-anchor="start" dy="0.355em">400</text><text transform="translate(906.54 394.52) rotate(-14.55) scale(0.94 1)" text-anchor="start" dy="0.355em">500</text><text transform="translate(912.33 420.08) rotate(-10.97) scale(0.94 1)" text-anchor="start" dy="0.355em">100</text><text transform="translate(913.7 427.52) rotate(-9.94) scale(0.93 1)" text-anchor="start" dy="0.355em">200</text><text transform="translate(914.94 434.97) rotate(-8.91) scale(0.93 1)" text-anchor="start" dy="0.355em">300</text><text transform="translate(916.04 442.45) rotate(-7.88) scale(0.93 1)" text-anchor="start" dy="0.355em">400</text><text transform="translate(917.01 449.94) rotate(-6.84) scale(0.93 1)" text-anchor="start" dy="0.355em">500</text><text transform="translate(917.84 457.45) rotate(-5.81) scale(0.93 1)" text-anchor="start" dy="0.355em">600</text><text transform="translate(918.54 464.98) rotate(-4.78) scale(0.93 1)" text-anchor="start" dy="0.355em">700</text><text transform="translate(919.1 472.52) rotate(-3.75) scale(0.93 1)" text-anchor="start" dy="0.355em">800</text><text transform="translate(919.53 480.06) rotate(-2.72) scale(0.92 1)" text-anchor="start" dy="0.355em">900</text><text transform="translate(919.82 487.61) rotate(-1.69) scale(0.92 1)" text-anchor="start" dy="0.355em">1000</text><text transform="translate(919.85 511.22) rotate(1.53) scale(0.92 1)" text-anchor="start" dy="0.355em">100</text><text transform="translate(919.58 518.77) rotate(2.56) scale(0.92 1)" text-anchor="start" dy="0.355em">200</text><text transform="translate(919.17 526.32) rotate(3.59) scale(0.93 1)" text-anchor="start" dy="0.355em">300</text><text transform="translate(918.63 533.86) rotate(4.62) scale(0.93 1)" text-anchor="start" dy="0.355em">400</text><text transform="translate(917.96 541.39) rotate(5.66) scale(0.93 1)" text-anchor="start" dy="0.355em">500</text><text transform="translate(917.14 548.9) rotate(6.69) scale(0.93 1)" text-anchor="start" dy="0.355em">600</text><text transform="translate(916.2 556.4) rotate(7.72) scale(0.93 1)" text-anchor="start" dy="0.355em">700</text><text transform="translate(912.14 580.87) rotate(11.1) scale(0.94 1)" text-anchor="start" dy="0.355em">100</text><text transform="translate(910.62 588.27) rotate(12.13) scale(0.94 1)" text-anchor="start" dy="0.355em">200</text><text transform="translate(908.96 595.64) rotate(13.16) scale(0.94 1)" text-anchor="start" dy="0.355em">300</text><text transform="translate(907.18 602.99) rotate(14.19) scale(0.94 1)" text-anchor="start" dy="0.355em">400</text><text transform="translate(905.26 610.3) rotate(15.22) scale(0.94 1)" text-anchor="start" dy="0.355em">500</text><text transform="translate(903.21 617.57) rotate(16.26) scale(0.94 1)" text-anchor="start" dy="0.355em">600</text><text transform="translate(901.03 624.81) rotate(17.29) scale(0.94 1)" text-anchor="start" dy="0.355em">700</text><text transform="translate(898.72 632) rotate(18.32) scale(0.95 1)" text-anchor="start" dy="0.355em">800</text><text transform="translate(896.28 639.15) rotate(19.35) scale(0.95 1)" text-anchor="start" dy="0.355em">900</text><text transform="translate(887.52 661.95) rotate(22.68) scale(0.95 1)" text-anchor="start" dy="0.355em">100</text><text transform="translate(884.54 668.9) rotate(23.71) scale(0.95 1)" text-anchor="start" dy="0.355em">200</text><text transform="translate(881.44 675.79) rotate(24.74) scale(0.95 1)" text-anchor="start" dy="0.355em">300</text><text transform="translate(878.22 682.63) rotate(25.77) scale(0.95 1)" text-anchor="start" dy="0.355em">400</text><text transform="translate(874.87 689.4) rotate(26.81) scale(0.96 1)" text-anchor="start" dy="0.355em">500</text><text transform="translate(871.4 696.12) rotate(27.84) scale(0.96 1)" text-anchor="start" dy="0.355em">600</text><text transform="translate(867.81 702.77) rotate(28.87) scale(0.96 1)" text-anchor="start" dy="0.355em">700</text><text transform="translate(864.1 709.35) rotate(29.9) scale(0.96 1)" text-anchor="start" dy="0.355em">800</text><text transform="translate(860.28 715.87) rotate(30.93) scale(0.96 1)" text-anchor="start" dy="0.355em">900</text><text transform="translate(856.34 722.32) rotate(31.96) scale(0.96 1)" text-anchor="start" dy="0.355em">1000</text><text transform="translate(852.28 728.69) rotate(32.99) scale(0.96 1)" text-anchor="start" dy="0.355em">1100</text><text transform="translate(848.11 734.99) rotate(34.02) scale(0.96 1)" text-anchor="start" dy="0.355em">1200</text><text transform="translate(835.73 752.36) rotate(36.93) scale(0.97 1)" text-anchor="start" dy="0.355em">100</text><text transform="translate(831.14 758.36) rotate(37.96) scale(0.97 1)" text-anchor="start" dy="0.355em">200</text><text transform="translate(826.43 764.27) rotate(38.99) scale(0.97 1)" text-anchor="start" dy="0.355em">300</text><text transform="translate(821.63 770.11) rotate(40.02) scale(0.97 1)" text-anchor="start" dy="0.355em">400</text><text transform="translate(816.71 775.85) rotate(41.06) scale(0.97 1)" text-anchor="start" dy="0.355em">500</text><text transform="translate(811.7 781.5) rotate(42.09) scale(0.97 1)" text-anchor="start" dy="0.355em">600</text><text transform="translate(806.58 787.07) rotate(43.12) scale(0.97 1)" text-anchor="start" dy="0.355em">700</text><text transform="translate(801.37 792.54) rotate(44.15) scale(0.98 1)" text-anchor="start" dy="0.355em">800</text><text transform="translate(796.06 797.91) rotate(45.18) scale(0.98 1)" text-anchor="start" dy="0.355em">900</text><text transform="translate(790.65 803.19) rotate(46.21) scale(0.98 1)" text-anchor="start" dy="0.355em">1000</text><text transform="translate(785.14 808.37) rotate(47.24) scale(0.98 1)" text-anchor="start" dy="0.355em">1100</text><text transform="translate(768.67 822.82) rotate(50.23) scale(0.98 1)" text-anchor="start" dy="0.355em">100</text><text transform="translate(762.82 827.61) rotate(51.26) scale(0.98 1)" text-anchor="start" dy="0.355em">200</text><text transform="translate(756.88 832.28) rotate(52.29) scale(0.98 1)" text-anchor="start" dy="0.355em">300</text><text transform="translate(750.86 836.85) rotate(53.32) scale(0.98 1)" text-anchor="start" dy="0.355em">400</text><text transform="translate(744.76 841.31) rotate(54.35) scale(0.99 1)" text-anchor="start" dy="0.355em">500</text><text transform="translate(738.58 845.66) rotate(55.39) scale(0.99 1)" text-anchor="start" dy="0.355em">600</text><text transform="translate(732.32 849.9) rotate(56.42) scale(0.99 1)" text-anchor="start" dy="0.355em">700</text><text transform="translate(725.99 854.02) rotate(57.45) scale(0.99 1)" text-anchor="start" dy="0.355em">800</text><text transform="translate(719.58 858.03) rotate(58.48) scale(0.99 1)" text-anchor="start" dy="0.355em">900</text><text transform="translate(713.1 861.92) rotate(59.51) scale(0.99 1)" text-anchor="start" dy="0.355em">1000</text><text transform="translate(706.56 865.7) rotate(60.54) scale(0.99 1)" text-anchor="start" dy="0.355em">1100</text><text transform="translate(699.94 869.35) rotate(61.57) scale(0.99 1)" text-anchor="start" dy="0.355em">1200</text><text transform="translate(693.26 872.89) rotate(62.6) scale(0.99 1)" text-anchor="start" dy="0.355em">1300</text><text transform="translate(686.52 876.31) rotate(63.63) scale(0.99 1)" text-anchor="start" dy="0.355em">1400</text><text transform="translate(679.72 879.6) rotate(64.66) scale(0.99 1)" text-anchor="start" dy="0.355em">1500</text><text transform="translate(672.86 882.78) rotate(65.7) scale(0.99 1)" text-anchor="start" dy="0.355em">1600</text><text transform="translate(665.95 885.83) rotate(66.73) scale(0.99 1)" text-anchor="start" dy="0.355em">1700</text><text transform="translate(658.98 888.75) rotate(67.76) scale(0.99 1)" text-anchor="start" dy="0.355em">1800</text><text transform="translate(635.83 897.43) rotate(71.13) scale(1 1)" text-anchor="start" dy="0.355em">100</text><text transform="translate(628.66 899.81) rotate(72.16) scale(1 1)" text-anchor="start" dy="0.355em">200</text><text transform="translate(610.61 905.17) rotate(74.73) scale(1 1)" text-anchor="start" dy="0.355em">100</text><text transform="translate(603.3 907.1) rotate(75.76) scale(1 1)" text-anchor="start" dy="0.355em">200</text><text transform="translate(595.96 908.89) rotate(76.79) scale(1 1)" text-anchor="start" dy="0.355em">300</text><text transform="translate(588.58 910.55) rotate(77.82) scale(1 1)" text-anchor="start" dy="0.355em">400</text><text transform="translate(581.18 912.08) rotate(78.85) scale(1 1)" text-anchor="start" dy="0.355em">500</text><text transform="translate(573.76 913.47) rotate(79.89) scale(1 1)" text-anchor="start" dy="0.355em">600</text><text transform="translate(548.05 917.24) rotate(83.43) scale(1 1)" text-anchor="start" dy="0.355em">100</text><text transform="translate(540.53 918.04) rotate(84.46) scale(1 1)" text-anchor="start" dy="0.355em">200</text><text transform="translate(533 918.7) rotate(85.49) scale(1 1)" text-anchor="start" dy="0.355em">300</text><text transform="translate(525.46 919.23) rotate(86.52) scale(1 1)" text-anchor="start" dy="0.355em">400</text><text transform="translate(517.92 919.62) rotate(87.56) scale(1 1)" text-anchor="start" dy="0.355em">500</text><text transform="translate(510.36 919.87) rotate(88.59) scale(1 1)" text-anchor="start" dy="0.355em">600</text><text transform="translate(502.81 919.99) rotate(89.62) scale(1 1)" text-anchor="start" dy="0.355em">700</text><text transform="translate(495.25 919.97) rotate(-89.35) scale(1 1)" text-anchor="end" dy="0.355em">800</text><text transform="translate(487.69 919.82) rotate(-88.32) scale(1 1)" text-anchor="end" dy="0.355em">900</text><text transform="translate(480.14 919.53) rotate(-87.29) scale(1 1)" text-anchor="end" dy="0.355em">1000</text><text transform="translate(472.6 919.11) rotate(-86.26) scale(1 1)" text-anchor="end" dy="0.355em">1100</text><text transform="translate(465.06 918.54) rotate(-85.23) scale(1 1)" text-anchor="end" dy="0.355em">1200</text><text transform="translate(457.53 917.85) rotate(-84.2) scale(1 1)" text-anchor="end" dy="0.355em">1300</text><text transform="translate(450.02 917.02) rotate(-83.17) scale(1 1)" text-anchor="end" dy="0.355em">1400</text><text transform="translate(442.53 916.05) rotate(-82.13) scale(1 1)" text-anchor="end" dy="0.355em">1500</text><text transform="translate(435.05 914.95) rotate(-81.1) scale(1 1)" text-anchor="end" dy="0.355em">1600</text><text transform="translate(427.59 913.71) rotate(-80.07) scale(1 1)" text-anchor="end" dy="0.355em">1700</text><text transform="translate(420.16 912.34) rotate(-79.04) scale(1 1)" text-anchor="end" dy="0.355em">1800</text><text transform="translate(397.11 907.2) rotate(-75.82) scale(1 1)" text-anchor="end" dy="0.355em">100</text><text transform="translate(389.8 905.28) rotate(-74.79) scale(1 1)" text-anchor="end" dy="0.355em">200</text><text transform="translate(368.26 898.8) rotate(-71.72) scale(1 1)" text-anchor="end" dy="0.355em">100</text><text transform="translate(361.1 896.37) rotate(-70.69) scale(1 1)" text-anchor="end" dy="0.355em">200</text><text transform="translate(353.99 893.8) rotate(-69.66) scale(1 1)" text-anchor="end" dy="0.355em">300</text><text transform="translate(346.93 891.11) rotate(-68.63) scale(0.99 1)" text-anchor="end" dy="0.355em">400</text><text transform="translate(339.92 888.3) rotate(-67.59) scale(0.99 1)" text-anchor="end" dy="0.355em">500</text><text transform="translate(315.68 877.39) rotate(-63.97) scale(0.99 1)" text-anchor="end" dy="0.355em">100</text><text transform="translate(308.92 874.02) rotate(-62.94) scale(0.99 1)" text-anchor="end" dy="0.355em">200</text><text transform="translate(302.22 870.52) rotate(-61.91) scale(0.99 1)" text-anchor="end" dy="0.355em">300</text><text transform="translate(295.59 866.9) rotate(-60.88) scale(0.99 1)" text-anchor="end" dy="0.355em">400</text><text transform="translate(289.02 863.16) rotate(-59.84) scale(0.99 1)" text-anchor="end" dy="0.355em">500</text><text transform="translate(282.52 859.31) rotate(-58.81) scale(0.99 1)" text-anchor="end" dy="0.355em">600</text><text transform="translate(264.95 848.07) rotate(-55.97) scale(0.99 1)" text-anchor="end" dy="0.355em">100</text><text transform="translate(258.73 843.78) rotate(-54.94) scale(0.99 1)" text-anchor="end" dy="0.355em">200</text><text transform="translate(252.58 839.39) rotate(-53.91) scale(0.98 1)" text-anchor="end" dy="0.355em">300</text><text transform="translate(246.51 834.88) rotate(-52.88) scale(0.98 1)" text-anchor="end" dy="0.355em">400</text><text transform="translate(240.53 830.26) rotate(-51.84) scale(0.98 1)" text-anchor="end" dy="0.355em">500</text><text transform="translate(234.63 825.54) rotate(-50.81) scale(0.98 1)" text-anchor="end" dy="0.355em">600</text><text transform="translate(228.81 820.71) rotate(-49.78) scale(0.98 1)" text-anchor="end" dy="0.355em">700</text><text transform="translate(223.09 815.78) rotate(-48.75) scale(0.98 1)" text-anchor="end" dy="0.355em">800</text><text transform="translate(217.45 810.75) rotate(-47.72) scale(0.98 1)" text-anchor="end" dy="0.355em">900</text><text transform="translate(211.9 805.61) rotate(-46.69) scale(0.98 1)" text-anchor="end" dy="0.355em">1000</text><text transform="translate(206.45 800.38) rotate(-45.66) scale(0.98 1)" text-anchor="end" dy="0.355em">1100</text><text transform="translate(191.18 784.66) rotate(-42.67) scale(0.97 1)" text-anchor="end" dy="0.355em">100</text><text transform="translate(186.11 779.06) rotate(-41.64) scale(0.97 1)" text-anchor="end" dy="0.355em">200</text><text transform="translate(181.14 773.36) rotate(-40.61) scale(0.97 1)" text-anchor="end" dy="0.355em">300</text><text transform="translate(176.27 767.58) rotate(-39.58) scale(0.97 1)" text-anchor="end" dy="0.355em">400</text><text transform="translate(171.51 761.71) rotate(-38.54) scale(0.97 1)" text-anchor="end" dy="0.355em">500</text><text transform="translate(156.67 741.92) rotate(-35.17) scale(0.97 1)" text-anchor="end" dy="0.355em">100</text><text transform="translate(152.37 735.7) rotate(-34.14) scale(0.96 1)" text-anchor="end" dy="0.355em">200</text><text transform="translate(148.19 729.41) rotate(-33.11) scale(0.96 1)" text-anchor="end" dy="0.355em">300</text><text transform="translate(144.12 723.04) rotate(-32.08) scale(0.96 1)" text-anchor="end" dy="0.355em">400</text><text transform="translate(140.16 716.6) rotate(-31.04) scale(0.96 1)" text-anchor="end" dy="0.355em">500</text><text transform="translate(136.32 710.09) rotate(-30.01) scale(0.96 1)" text-anchor="end" dy="0.355em">600</text><text transform="translate(126.34 691.78) rotate(-27.17) scale(0.96 1)" text-anchor="end" dy="0.355em">100</text><text transform="translate(122.95 685.02) rotate(-26.14) scale(0.96 1)" text-anchor="end" dy="0.355em">200</text><text transform="translate(119.68 678.21) rotate(-25.11) scale(0.95 1)" text-anchor="end" dy="0.355em">300</text><text transform="translate(116.54 671.34) rotate(-24.08) scale(0.95 1)" text-anchor="end" dy="0.355em">400</text><text transform="translate(113.52 664.41) rotate(-23.04) scale(0.95 1)" text-anchor="end" dy="0.355em">500</text><text transform="translate(110.62 657.43) rotate(-22.01) scale(0.95 1)" text-anchor="end" dy="0.355em">600</text><text transform="translate(107.85 650.4) rotate(-20.98) scale(0.95 1)" text-anchor="end" dy="0.355em">700</text><text transform="translate(105.21 643.32) rotate(-19.95) scale(0.95 1)" text-anchor="end" dy="0.355em">800</text><text transform="translate(102.69 636.19) rotate(-18.92) scale(0.95 1)" text-anchor="end" dy="0.355em">900</text><text transform="translate(100.31 629.02) rotate(-17.89) scale(0.94 1)" text-anchor="end" dy="0.355em">1000</text><text transform="translate(98.05 621.81) rotate(-16.86) scale(0.94 1)" text-anchor="end" dy="0.355em">1100</text><text transform="translate(95.92 614.56) rotate(-15.83) scale(0.94 1)" text-anchor="end" dy="0.355em">1200</text><text transform="translate(93.93 607.27) rotate(-14.8) scale(0.94 1)" text-anchor="end" dy="0.355em">1300</text><text transform="translate(92.06 599.94) rotate(-13.77) scale(0.94 1)" text-anchor="end" dy="0.355em">1400</text><text transform="translate(90.33 592.59) rotate(-12.74) scale(0.94 1)" text-anchor="end" dy="0.355em">1500</text><text transform="translate(85.97 570.54) rotate(-9.67) scale(0.93 1)" text-anchor="end" dy="0.355em">100</text><text transform="translate(84.76 563.08) rotate(-8.64) scale(0.93 1)" text-anchor="end" dy="0.355em">200</text><text transform="translate(83.7 555.6) rotate(-7.61) scale(0.93 1)" text-anchor="end" dy="0.355em">300</text><text transform="translate(82.76 548.1) rotate(-6.58) scale(0.93 1)" text-anchor="end" dy="0.355em">400</text><text transform="translate(81.97 540.58) rotate(-5.55) scale(0.93 1)" text-anchor="end" dy="0.355em">500</text><text transform="translate(81.3 533.06) rotate(-4.51) scale(0.93 1)" text-anchor="end" dy="0.355em">600</text><text transform="translate(80.78 525.52) rotate(-3.48) scale(0.92 1)" text-anchor="end" dy="0.355em">700</text><text transform="translate(80.38 517.97) rotate(-2.45) scale(0.92 1)" text-anchor="end" dy="0.355em">800</text><text transform="translate(80.13 510.42) rotate(-1.42) scale(0.92 1)" text-anchor="end" dy="0.355em">900</text><text transform="translate(80.01 502.86) rotate(-0.39) scale(0.92 1)" text-anchor="end" dy="0.355em">1000</text><text transform="translate(80.03 495.3) rotate(0.64) scale(0.92 1)" text-anchor="end" dy="0.355em">1100</text><text transform="translate(80.18 487.75) rotate(1.67) scale(0.92 1)" text-anchor="end" dy="0.355em">1200</text><text transform="translate(80.47 480.19) rotate(2.7) scale(0.92 1)" text-anchor="end" dy="0.355em">1300</text><text transform="translate(80.89 472.65) rotate(3.73) scale(0.93 1)" text-anchor="end" dy="0.355em">1400</text><text transform="translate(81.45 465.11) rotate(4.76) scale(0.93 1)" text-anchor="end" dy="0.355em">1500</text><text transform="translate(82.15 457.59) rotate(5.8) scale(0.93 1)" text-anchor="end" dy="0.355em">1600</text><text transform="translate(82.98 450.07) rotate(6.83) scale(0.93 1)" text-anchor="end" dy="0.355em">1700</text><text transform="translate(83.94 442.58) rotate(7.86) scale(0.93 1)" text-anchor="end" dy="0.355em">1800</text><text transform="translate(85.04 435.1) rotate(8.89) scale(0.93 1)" text-anchor="end" dy="0.355em">1900</text><text transform="translate(86.28 427.65) rotate(9.92) scale(0.93 1)" text-anchor="end" dy="0.355em">2000</text><text transform="translate(87.65 420.21) rotate(10.95) scale(0.94 1)" text-anchor="end" dy="0.355em">2100</text><text transform="translate(92.35 398.88) rotate(13.93) scale(0.94 1)" text-anchor="end" dy="0.355em">100</text><text transform="translate(94.24 391.57) rotate(14.96) scale(0.94 1)" text-anchor="end" dy="0.355em">200</text><text transform="translate(96.26 384.28) rotate(15.99) scale(0.94 1)" text-anchor="end" dy="0.355em">300</text><text transform="translate(98.4 377.04) rotate(17.02) scale(0.94 1)" text-anchor="end" dy="0.355em">400</text><text transform="translate(100.68 369.83) rotate(18.05) scale(0.94 1)" text-anchor="end" dy="0.355em">500</text><text transform="translate(103.09 362.67) rotate(19.09) scale(0.95 1)" text-anchor="end" dy="0.355em">600</text><text transform="translate(105.62 355.55) rotate(20.12) scale(0.95 1)" text-anchor="end" dy="0.355em">700</text><text transform="translate(108.29 348.47) rotate(21.15) scale(0.95 1)" text-anchor="end" dy="0.355em">800</text><text transform="translate(111.08 341.45) rotate(22.18) scale(0.95 1)" text-anchor="end" dy="0.355em">900</text><text transform="translate(113.99 334.48) rotate(23.21) scale(0.95 1)" text-anchor="end" dy="0.355em">1000</text><text transform="translate(117.03 327.56) rotate(24.24) scale(0.95 1)" text-anchor="end" dy="0.355em">1100</text><text transform="translate(120.2 320.7) rotate(25.27) scale(0.95 1)" text-anchor="end" dy="0.355em">1200</text><text transform="translate(123.49 313.89) rotate(26.3) scale(0.96 1)" text-anchor="end" dy="0.355em">1300</text><text transform="translate(126.9 307.15) rotate(27.33) scale(0.96 1)" text-anchor="end" dy="0.355em">1400</text><text transform="translate(130.43 300.46) rotate(28.36) scale(0.96 1)" text-anchor="end" dy="0.355em">1500</text><text transform="translate(134.08 293.85) rotate(29.4) scale(0.96 1)" text-anchor="end" dy="0.355em">1600</text><text transform="translate(137.84 287.3) rotate(30.43) scale(0.96 1)" text-anchor="end" dy="0.355em">1700</text><text transform="translate(141.73 280.81) rotate(31.46) scale(0.96 1)" text-anchor="end" dy="0.355em">1800</text><text transform="translate(145.73 274.4) rotate(32.49) scale(0.96 1)" text-anchor="end" dy="0.355em">1900</text><text transform="translate(156.93 257.71) rotate(35.23) scale(0.97 1)" text-anchor="end" dy="0.355em">100</text><text transform="translate(168.5 242.11) rotate(37.88) scale(0.97 1)" text-anchor="end" dy="0.355em">100</text><text transform="translate(173.19 236.19) rotate(38.91) scale(0.97 1)" text-anchor="end" dy="0.355em">200</text><text transform="translate(177.99 230.35) rotate(39.94) scale(0.97 1)" text-anchor="end" dy="0.355em">300</text><text transform="translate(182.9 224.6) rotate(40.97) scale(0.97 1)" text-anchor="end" dy="0.355em">400</text><text transform="translate(187.9 218.94) rotate(42) scale(0.97 1)" text-anchor="end" dy="0.355em">500</text><text transform="translate(203.95 202.08) rotate(45.18) scale(0.98 1)" text-anchor="end" dy="0.355em">100</text><text transform="translate(209.36 196.8) rotate(46.21) scale(0.98 1)" text-anchor="end" dy="0.355em">200</text><text transform="translate(214.87 191.62) rotate(47.24) scale(0.98 1)" text-anchor="end" dy="0.355em">300</text><text transform="translate(229.92 178.35) rotate(49.98) scale(0.98 1)" text-anchor="end" dy="0.355em">100</text><text transform="translate(235.75 173.54) rotate(51.01) scale(0.98 1)" text-anchor="end" dy="0.355em">200</text><text transform="translate(241.67 168.84) rotate(52.04) scale(0.98 1)" text-anchor="end" dy="0.355em">300</text><text transform="translate(247.67 164.25) rotate(53.07) scale(0.98 1)" text-anchor="end" dy="0.355em">400</text><text transform="translate(253.75 159.76) rotate(54.1) scale(0.98 1)" text-anchor="end" dy="0.355em">500</text><text transform="translate(259.92 155.39) rotate(55.14) scale(0.99 1)" text-anchor="end" dy="0.355em">600</text><text transform="translate(266.15 151.12) rotate(56.17) scale(0.99 1)" text-anchor="end" dy="0.355em">700</text><text transform="translate(272.47 146.97) rotate(57.2) scale(0.99 1)" text-anchor="end" dy="0.355em">800</text><text transform="translate(278.86 142.93) rotate(58.23) scale(0.99 1)" text-anchor="end" dy="0.355em">900</text><text transform="translate(285.32 139.01) rotate(59.26) scale(0.99 1)" text-anchor="end" dy="0.355em">1000</text><text transform="translate(291.85 135.21) rotate(60.29) scale(0.99 1)" text-anchor="end" dy="0.355em">1100</text><text transform="translate(298.45 131.52) rotate(61.32) scale(0.99 1)" text-anchor="end" dy="0.355em">1200</text><text transform="translate(305.11 127.95) rotate(62.35) scale(0.99 1)" text-anchor="end" dy="0.355em">1300</text><text transform="translate(311.84 124.51) rotate(63.38) scale(0.99 1)" text-anchor="end" dy="0.355em">1400</text><text transform="translate(318.62 121.18) rotate(64.41) scale(0.99 1)" text-anchor="end" dy="0.355em">1500</text><text transform="translate(325.47 117.98) rotate(65.45) scale(0.99 1)" text-anchor="end" dy="0.355em">1600</text><text transform="translate(345.6 109.41) rotate(68.43) scale(0.99 1)" text-anchor="end" dy="0.355em">100</text><text transform="translate(352.65 106.7) rotate(69.46) scale(0.99 1)" text-anchor="end" dy="0.355em">200</text><text transform="translate(359.75 104.11) rotate(70.49) scale(1 1)" text-anchor="end" dy="0.355em">300</text><text transform="translate(366.9 101.65) rotate(71.52) scale(1 1)" text-anchor="end" dy="0.355em">400</text><text transform="translate(374.09 99.32) rotate(72.55) scale(1 1)" text-anchor="end" dy="0.355em">500</text><text transform="translate(397.55 92.69) rotate(75.88) scale(1 1)" text-anchor="end" dy="0.355em">100</text><text transform="translate(404.89 90.91) rotate(76.91) scale(1 1)" text-anchor="end" dy="0.355em">200</text><text transform="translate(412.27 89.27) rotate(77.94) scale(1 1)" text-anchor="end" dy="0.355em">300</text><text transform="translate(419.67 87.75) rotate(78.97) scale(1 1)" text-anchor="end" dy="0.355em">400</text><text transform="translate(427.1 86.37) rotate(80) scale(1 1)" text-anchor="end" dy="0.355em">500</text><text transform="translate(449.4 83.06) rotate(83.08) scale(1 1)" text-anchor="end" dy="0.355em">100</text><text transform="translate(456.91 82.22) rotate(84.11) scale(1 1)" text-anchor="end" dy="0.355em">200</text><text transform="translate(464.44 81.51) rotate(85.14) scale(1 1)" text-anchor="end" dy="0.355em">300</text><text transform="translate(471.97 80.94) rotate(86.17) scale(1 1)" text-anchor="end" dy="0.355em">400</text><text transform="translate(479.52 80.5) rotate(87.2) scale(1 1)" text-anchor="end" dy="0.355em">500</text><text transform="translate(487.07 80.2) rotate(88.24) scale(1 1)" text-anchor="end" dy="0.355em">600</text></g>
<g font-size="10.3" fill="#555"><text transform="translate(509.35 36.3) rotate(1.15)" text-anchor="middle" dy="0.355em" letter-spacing="-0.25">hemico1_44</text><text transform="translate(636.94 57.63) rotate(17.2)" text-anchor="middle" dy="0.355em" letter-spacing="0.4">TcDm25_Chr30_H2_c1</text><text transform="translate(826.24 174.04) rotate(45.03)" text-anchor="middle" dy="0.355em" letter-spacing="0.4">TcDm25_Chr30_H1_c1</text><text transform="translate(914.36 298.35) rotate(64.05)" text-anchor="middle" dy="0.355em" letter-spacing="0.4">TcDm25_Chr21_H1</text><text transform="translate(941.48 367.97) rotate(73.35)" text-anchor="middle" dy="0.355em" letter-spacing="0.4">TcDm25_Chr28_H1_c1</text><text transform="translate(957.79 447.44) rotate(83.45)" text-anchor="middle" dy="0.355em" letter-spacing="0.4">TcDm25_Chr11_H1</text><text transform="translate(959.03 535.52) rotate(-85.58)" text-anchor="middle" dy="0.355em" letter-spacing="0.4">TcDm25_Chr26_H1</text><text transform="translate(944.59 619.63) rotate(-74.94)" text-anchor="middle" dy="0.355em" letter-spacing="0.4">TcDm25_Chr08_H2</text><text transform="translate(906.7 715.79) rotate(-62.05)" text-anchor="middle" dy="0.355em" letter-spacing="0.4">TcDm25_Chr08_H1</text><text transform="translate(843.75 806.27) rotate(-48.3)" text-anchor="middle" dy="0.355em" letter-spacing="0.4">TcDm25_Chr12_H1</text><text transform="translate(738.16 894.02) rotate(-31.15)" text-anchor="middle" dy="0.355em" letter-spacing="0.4">TcDm25_Chr03_H1</text><text transform="translate(647.99 935.97) rotate(-18.75)" text-anchor="middle" dy="0.355em" letter-spacing="0.4">TcDm25_Chr03_H2_c1</text><text transform="translate(601.41 949.09) rotate(-12.73)" text-anchor="middle" dy="0.355em" letter-spacing="0.4">TcDm25_Chr03_H2_c2</text><text transform="translate(483.93 960.12) rotate(2)" text-anchor="middle" dy="0.355em" letter-spacing="0.4">TcDm25_Chr32_H1</text><text transform="translate(385.5 945.94) rotate(14.4)" text-anchor="middle" dy="0.355em" letter-spacing="0.4">TcDm25_Chr12_H2_c3</text><text transform="translate(340.08 931.73) rotate(20.32)" text-anchor="middle" dy="0.355em" letter-spacing="0.4">TcDm25_Chr12_H2_c1</text><text transform="translate(282.44 905.75) rotate(28.2)" text-anchor="middle" dy="0.355em" letter-spacing="0.4">TcDm25_Chr10_H2_c1</text><text transform="translate(210.57 858.05) rotate(38.95)" text-anchor="middle" dy="0.355em" letter-spacing="0.4">TcDm25_Chr10_H1</text><text transform="translate(150.69 799.92) rotate(49.35)" text-anchor="middle" dy="0.355em" letter-spacing="0.4">TcDm25_Chr32_H2_c1</text><text transform="translate(113.88 750.75) rotate(57)" text-anchor="middle" dy="0.355em" letter-spacing="0.4">TcDm25_Chr26_H2_c1</text><text transform="translate(68.06 659.35) rotate(69.75)" text-anchor="middle" dy="0.355em" letter-spacing="0.4">TcDm25_Chr06_H2_c1</text><text transform="translate(39.21 496.98) rotate(270.38)" text-anchor="middle" dy="0.355em" letter-spacing="0.4">TcDm25_Chr02_H1</text><text transform="translate(75.04 321.8) rotate(292.75)" text-anchor="middle" dy="0.355em" letter-spacing="0.4">TcDm25_Chr02_H2</text><text transform="translate(121.3 237.29) rotate(304.75)" text-anchor="middle" dy="0.355em" letter-spacing="0.4">TcDm25_Chr02_H2_c2</text><text transform="translate(145.3 205.53) rotate(309.7)" text-anchor="middle" dy="0.355em" letter-spacing="0.4">TcDm25_Chr21_H2_c1</text><text transform="translate(178.03 169.78) rotate(315.73)" text-anchor="middle" dy="0.355em" letter-spacing="0.4">TcDm25_Chr12_H2_c2</text><text transform="translate(250.99 111) rotate(327.38)" text-anchor="middle" dy="0.355em" letter-spacing="0.4">TcDm25_Chr06_H1</text><text transform="translate(343.96 64.2) rotate(340.3)" text-anchor="middle" dy="0.355em" letter-spacing="0.4">TcDm25_Chr12_H2_c4</text><text transform="translate(401.08 47.27) rotate(347.68)" text-anchor="middle" dy="0.355em" letter-spacing="0.4">TcDm25_Chr08_H2_c1</text><text transform="translate(462 37.82) rotate(355.3)" text-anchor="middle" dy="0.355em" letter-spacing="0.4">TcDm25_Chr22_H1</text></g>
</svg>
</body></html>
